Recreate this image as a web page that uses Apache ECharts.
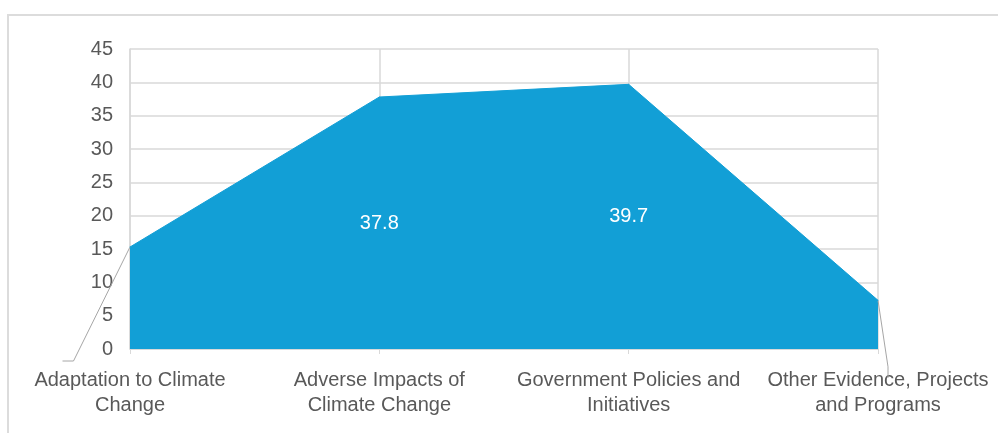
<!DOCTYPE html>
<html>
<head>
<meta charset="utf-8">
<title>Climate change topics</title>
<script src="https://cdn.jsdelivr.net/npm/echarts@6/dist/echarts.min.js"></script>
<style>
  html, body { margin: 0; padding: 0; background: #ffffff; overflow: hidden; }
  #chart { width: 998px; height: 433px; }
</style>
</head>
<body>
<div id="chart"></div>
<script>
// Topic categories along the horizontal axis
var categories = [
  'Adaptation to Climate\nChange',
  'Adverse Impacts of\nClimate Change',
  'Government Policies and\nInitiatives',
  'Other Evidence, Projects\nand Programs'
];
// Share per topic
var values = [15.3, 37.8, 39.7, 7.3];
// Value axis ticks
var yTicks = [0, 5, 10, 15, 20, 25, 30, 35, 40, 45];

var FONT = '"Liberation Sans", Arial, Helvetica, sans-serif';
var TEXT = '#595959';
var GRID = '#d9d9d9';
var AREA = '#129fd6';

var chart = echarts.init(document.getElementById('chart'), null, { renderer: 'canvas' });

// Inner points carry their value in the middle of the filled area;
// end points get a guide line pointing outward.
var seriesData = values.map(function (v, i) {
  var item = { value: v };
  if (i === 0) {
    item.label = { position: 'left', color: 'rgba(255,255,255,0)' };
    item.labelLine = { show: true };
  } else if (i === values.length - 1) {
    item.label = { position: 'bottom', color: 'rgba(255,255,255,0)' };
    item.labelLine = { show: true };
  } else {
    item.labelLine = { show: false };
  }
  return item;
});

var option = {
  backgroundColor: '#ffffff',
  animation: false,
  textStyle: { fontFamily: FONT },
  grid: {
    left: 130, right: 120, top: 49, bottom: 84,
    containLabel: false,
    outerBoundsMode: 'none'
  },
  graphic: [{
    type: 'rect',
    silent: true,
    shape: { x: 8, y: 15, width: 1000, height: 440 },
    style: { fill: 'none', stroke: '#dcdcdc', lineWidth: 2 },
    z: -10
  }],
  xAxis: {
    type: 'category',
    data: categories,
    boundaryGap: false,
    axisLine: { show: true, lineStyle: { color: GRID, width: 1 } },
    axisTick: { show: true, alignWithLabel: true, length: 5, lineStyle: { color: GRID } },
    axisLabel: {
      interval: 0,
      color: TEXT,
      fontFamily: FONT,
      fontSize: 20,
      lineHeight: 25,
      margin: 19,
      align: 'center',
      hideOverlap: false
    },
    splitLine: { show: true, lineStyle: { color: GRID, width: 1.5 } }
  },
  yAxis: {
    type: 'value',
    min: yTicks[0],
    max: yTicks[yTicks.length - 1],
    interval: yTicks[1] - yTicks[0],
    axisLine: { show: true, lineStyle: { color: GRID, width: 1.5 } },
    axisTick: { show: false },
    axisLabel: { color: TEXT, fontFamily: FONT, fontSize: 20, margin: 17 },
    splitLine: { show: true, lineStyle: { color: GRID, width: 1.5 } }
  },
  series: [{
    type: 'line',
    data: seriesData,
    symbol: 'circle',
    symbolSize: 1,
    showSymbol: true,
    itemStyle: { color: AREA },
    lineStyle: { color: AREA, width: 1 },
    areaStyle: { color: AREA, opacity: 1 },
    label: {
      show: true,
      position: 'inside',
      color: '#ffffff',
      fontFamily: FONT,
      fontSize: 20
    },
    labelLine: {
      show: false,
      length2: 11,
      lineStyle: { color: '#a6a6a6', width: 1 }
    },
    labelLayout: function (params) {
      var i = params.dataIndex;
      if (i === 0) {
        return { dx: -62, dy: 114 };
      }
      if (i === values.length - 1) {
        return { dx: 10, dy: 72 };
      }
      // centre the value inside the filled band below the point
      var yMid = chart.convertToPixel({ yAxisIndex: 0 }, values[i] / 2);
      return { y: yMid, verticalAlign: 'middle', align: 'center' };
    }
  }]
};

chart.setOption(option);
</script>
</body>
</html>
